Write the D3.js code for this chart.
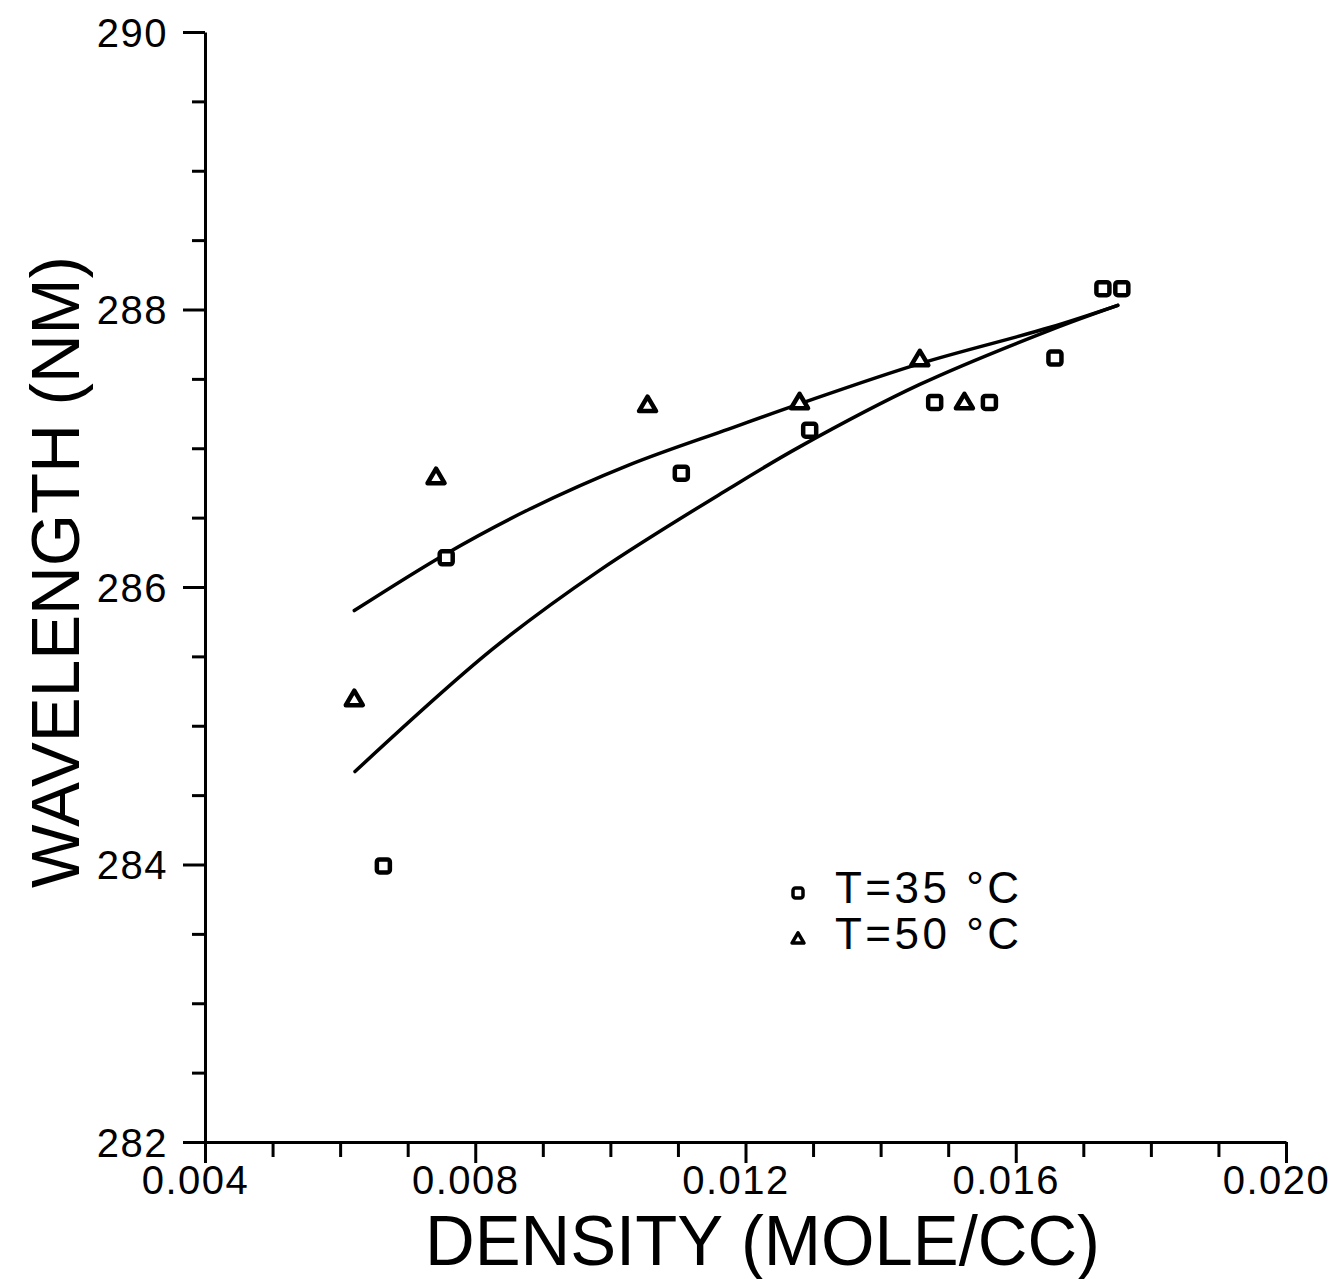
<!DOCTYPE html>
<html>
<head>
<meta charset="utf-8">
<script src="https://cdn.jsdelivr.net/npm/d3@7"></script>
<style>
  html, body { margin: 0; padding: 0; background: #fff; }
  svg { display: block; }
  text { fill: #000; font-family: "Liberation Sans", Arial, Helvetica, sans-serif; }
</style>
</head>
<body>
<svg id="chart" width="1339" height="1279"></svg>
<script>
// ---- data ----
const xMajorTicks = [0.004, 0.008, 0.012, 0.016, 0.020];
const xTickLabels = ["0.004", "0.008", "0.012", "0.016", "0.020"];
const yMajorTicks = [282, 284, 286, 288, 290];
const yTickLabels = ["282", "284", "286", "288", "290"];

// T = 35 °C (squares)
const t35Density = [0.00664, 0.00757, 0.01105, 0.01295, 0.01480, 0.01561, 0.01658, 0.01729, 0.01757];
const t35Wave    = [283.99, 286.21, 286.82, 287.13, 287.33, 287.33, 287.65, 288.15, 288.15];

// T = 50 °C (triangles)
const t50Density = [0.00621, 0.00742, 0.01055, 0.01280, 0.01458, 0.01524];
const t50Wave    = [285.19, 286.79, 287.31, 287.33, 287.64, 287.33];

// fitted curves
const upperCurveX = [0.00621, 0.00757, 0.00880, 0.01028, 0.01176, 0.01280, 0.01458, 0.01650, 0.01751];
const upperCurveY = [285.83, 286.24, 286.56, 286.88, 287.14, 287.32, 287.61, 287.87, 288.03];
const lowerCurveX = [0.00622, 0.00825, 0.00984, 0.01176, 0.01280, 0.01458, 0.01650, 0.01751];
const lowerCurveY = [284.67, 285.55, 286.12, 286.71, 287.01, 287.46, 287.85, 288.03];

const legendLabels = ["T=35 °C", "T=50 °C"];
const xTitle = "DENSITY (MOLE/CC)";
const yTitle = "WAVELENGTH (NM)";

// ---- drawing ----
const svg = d3.select("#chart");
const x = d3.scaleLinear().domain([0.004, 0.020]).range([205, 1286]);
const y = d3.scaleLinear().domain([282, 290]).range([1142, 32]);

const xMinor = d3.range(0, 17).map(i => 0.004 + i * 0.001).filter(v => !xMajorTicks.some(m => Math.abs(m - v) < 1e-9));
const yMinor = d3.range(0, 17).map(i => 282 + i * 0.5).filter(v => !yMajorTicks.some(m => Math.abs(m - v) < 1e-9));

const axisStroke = 3;

// X axis
const gx = svg.append("g").attr("transform", `translate(0,${y(282)})`);
gx.call(d3.axisBottom(x).tickValues(xMinor).tickSize(15).tickSizeOuter(0).tickFormat(""));
gx.call(g => g.select(".domain").remove());
const gxMaj = svg.append("g").attr("transform", `translate(0,${y(282)})`);
gxMaj.call(d3.axisBottom(x).tickValues(xMajorTicks).tickSize(21).tickSizeOuter(0)
  .tickFormat((d, i) => xTickLabels[i]));
gxMaj.select(".domain").attr("stroke-width", axisStroke);
[gx, gxMaj].forEach(g => g.selectAll(".tick line").attr("stroke-width", axisStroke));
gxMaj.selectAll(".tick text")
  .attr("font-size", 40).attr("dy", 0).attr("y", 52).attr("x", -10)
  .attr("letter-spacing", 1.5)
  .style("font-family", '"Liberation Sans", Arial, sans-serif');

// Y axis
const gy = svg.append("g").attr("transform", `translate(${x(0.004)},0)`);
gy.call(d3.axisLeft(y).tickValues(yMinor).tickSize(13).tickSizeOuter(0).tickFormat(""));
gy.call(g => g.select(".domain").remove());
const gyMaj = svg.append("g").attr("transform", `translate(${x(0.004)},0)`);
gyMaj.call(d3.axisLeft(y).tickValues(yMajorTicks).tickSize(22).tickSizeOuter(0)
  .tickFormat((d, i) => yTickLabels[i]));
gyMaj.select(".domain").attr("stroke-width", axisStroke);
[gy, gyMaj].forEach(g => g.selectAll(".tick line").attr("stroke-width", axisStroke));
gyMaj.selectAll(".tick text")
  .attr("font-size", 40).attr("x", -37).attr("dy", "0.36em")
  .attr("letter-spacing", 1.5)
  .style("font-family", '"Liberation Sans", Arial, sans-serif');
svg.selectAll(".domain").attr("stroke", "#000");

// curves
const line = d3.line().x(d => x(d[0])).y(d => y(d[1])).curve(d3.curveCatmullRom.alpha(0.5));
svg.append("path").datum(upperCurveX.map((v, i) => [v, upperCurveY[i]]))
  .attr("d", line).attr("fill", "none").attr("stroke", "#000").attr("stroke-width", 3.5)
  .attr("stroke-linecap", "round");
svg.append("path").datum(lowerCurveX.map((v, i) => [v, lowerCurveY[i]]))
  .attr("d", line).attr("fill", "none").attr("stroke", "#000").attr("stroke-width", 3.5)
  .attr("stroke-linecap", "round");

// markers
function square(g, cx, cy, s, sw) {
  g.append("rect").attr("x", cx - s / 2).attr("y", cy - s / 2).attr("width", s).attr("height", s)
    .attr("rx", 2.5).attr("fill", "#fff").attr("stroke", "#000").attr("stroke-width", sw);
}
function triangle(g, cx, cy, s, sw) {
  const h = s * 0.85;
  g.append("path")
    .attr("d", `M${cx},${cy - h * 0.6} L${cx + s / 2},${cy + h * 0.4} L${cx - s / 2},${cy + h * 0.4} Z`)
    .attr("fill", "#fff").attr("stroke", "#000").attr("stroke-width", sw).attr("stroke-linejoin", "round");
}
const gm = svg.append("g");
t35Density.forEach((d, i) => square(gm, x(d), y(t35Wave[i]), 13, 4.5));
t50Density.forEach((d, i) => triangle(gm, x(d), y(t50Wave[i]), 17, 4.5));

// legend
const gl = svg.append("g");
square(gl, 798, 893, 10, 3.5);
triangle(gl, 798, 939, 12, 3.5);
gl.append("text").attr("x", 835).attr("y", 903).attr("font-size", 44)
  .attr("textLength", 184).attr("lengthAdjust", "spacing").text(legendLabels[0]);
gl.append("text").attr("x", 835).attr("y", 949).attr("font-size", 44)
  .attr("textLength", 184).attr("lengthAdjust", "spacing").text(legendLabels[1]);

// axis titles
svg.append("text").attr("x", 425).attr("y", 1265).attr("font-size", 70)
  .style("font-family", '"Liberation Sans Narrow", "Liberation Sans", Arial, sans-serif')
  .attr("textLength", 675).attr("lengthAdjust", "spacingAndGlyphs")
  .text(xTitle);
svg.append("text").attr("transform", "translate(79,888) rotate(-90)")
  .attr("x", 0).attr("y", 0).attr("font-size", 68)
  .style("font-family", '"Liberation Sans Narrow", "Liberation Sans", Arial, sans-serif')
  .attr("textLength", 632).attr("lengthAdjust", "spacingAndGlyphs")
  .text(yTitle);
</script>
</body>
</html>
